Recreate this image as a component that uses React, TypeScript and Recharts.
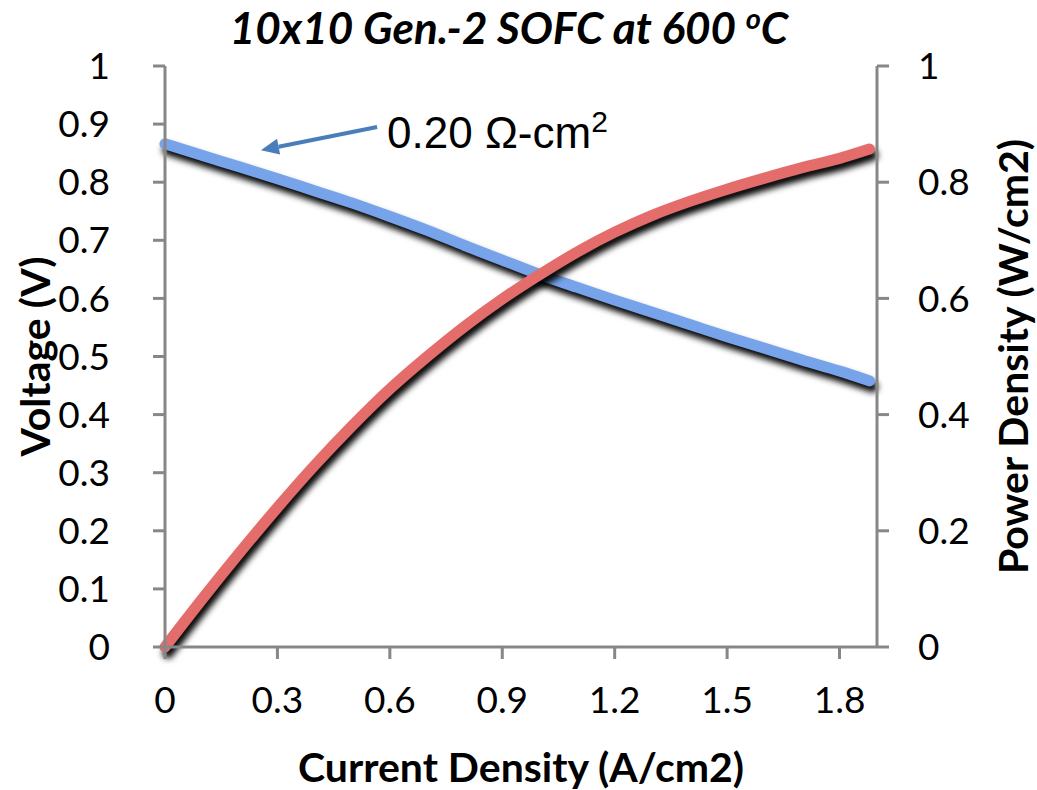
import { LineChart, Line, XAxis, YAxis, ReferenceLine } from 'recharts'

// current density (A/cm2)
const current = [0, 0.1, 0.2, 0.3, 0.4, 0.5, 0.6, 0.7, 0.8, 0.9, 1.0, 1.1, 1.2, 1.3, 1.4, 1.5, 1.6, 1.7, 1.8, 1.88]
// cell voltage (V)
const voltage = [0.866, 0.846, 0.826, 0.806, 0.785, 0.764, 0.741, 0.717, 0.691, 0.666, 0.641, 0.619, 0.597, 0.576, 0.555, 0.534, 0.514, 0.494, 0.475, 0.458]
// power density (W/cm2)
const power = [0, 0.083, 0.163, 0.24, 0.313, 0.381, 0.444, 0.5, 0.552, 0.599, 0.641, 0.68, 0.714, 0.743, 0.767, 0.788, 0.807, 0.825, 0.841, 0.857]

const xTicks = [0, 0.3, 0.6, 0.9, 1.2, 1.5, 1.8]
const leftTicks = [0, 0.1, 0.2, 0.3, 0.4, 0.5, 0.6, 0.7, 0.8, 0.9, 1]
const rightTicks = [0, 0.2, 0.4, 0.6, 0.8, 1]

const data = current.map((i, k) => ({ i, v: voltage[k], p: power[k] }))

const AXIS = '#878787'
const tickStyle = { fill: '#000', fontSize: 37, fontFamily: 'Lato' }
const titleStyle = { fill: '#000', fontSize: 41, fontWeight: 700, fontFamily: 'Lato' }

function Arrow(props: any) {
  const { x1, y1, x2, y2 } = props
  const dx = x2 - x1
  const dy = y2 - y1
  const len = Math.sqrt(dx * dx + dy * dy)
  const ux = dx / len
  const uy = dy / len
  const hl = 18
  const hw = 8
  const bx = x2 - ux * hl
  const by = y2 - uy * hl
  return (
    <g>
      <line x1={x1} y1={y1} x2={bx} y2={by} stroke="#4a7ebb" strokeWidth={4} />
      <polygon
        points={`${x2},${y2} ${bx - uy * hw},${by + ux * hw} ${bx + uy * hw},${by - ux * hw}`}
        fill="#4a7ebb"
      />
      <text x={x1 + 10} y={y1 + 21} fontSize={44} fontFamily="Liberation Sans" fill="#000">
        0.20 Ω-cm<tspan fontSize={30} dy={-16}>2</tspan>
      </text>
    </g>
  )
}

export default function App() {
  return (
    <div style={{ position: 'absolute', left: 0, top: 0, width: 1037, height: 790, background: '#fff' }}>
      <style>{`
        .v-line .recharts-line-curve, .p-line .recharts-line-curve {
          filter: drop-shadow(3px 6px 3px #000);
        }
      `}</style>
      <div
        style={{
          position: 'absolute',
          left: 0,
          top: -1,
          width: 1018,
          textAlign: 'center',
          fontFamily: 'Lato',
          fontWeight: 700,
          fontStyle: 'italic',
          fontSize: 44,
          lineHeight: '56px',
        }}
      >
        10x10 Gen.-2 SOFC at 600 <sup style={{ fontSize: 29, verticalAlign: 'top', lineHeight: '38px' }}>o</sup>C
      </div>
      <LineChart width={1037} height={790} data={data} margin={{ top: 66, right: 0, bottom: 0, left: 0 }}>
        <XAxis
          dataKey="i"
          type="number"
          domain={[0, 1.9]}
          ticks={xTicks}
          tickFormatter={(t: number) => String(t)}
          height={143}
          stroke={AXIS}
          strokeWidth={3}
          tickSize={12}
          tickMargin={28}
          tick={tickStyle}
          label={{ value: 'Current Density (A/cm2)', position: 'insideBottom', offset: 8, style: titleStyle }}
        />
        <YAxis
          yAxisId="left"
          domain={[0, 1]}
          ticks={leftTicks}
          tickFormatter={(t: number) => String(t)}
          width={165}
          stroke={AXIS}
          strokeWidth={3}
          tickSize={12}
          tickMargin={43}
          tick={tickStyle}
          label={{ value: 'Voltage (V)', angle: -90, position: 'insideLeft', offset: 35, textAnchor: 'middle', style: titleStyle }}
        />
        <YAxis
          yAxisId="right"
          orientation="right"
          domain={[0, 1]}
          ticks={rightTicks}
          tickFormatter={(t: number) => String(t)}
          width={160}
          stroke={AXIS}
          strokeWidth={3}
          tickSize={12}
          tickMargin={29}
          tick={tickStyle}
          label={{ value: 'Power Density (W/cm2)', angle: -90, position: 'insideRight', offset: 24, textAnchor: 'middle', style: titleStyle }}
        />
        <Line
          yAxisId="left"
          className="v-line"
          type="monotone"
          dataKey="v"
          stroke="#77a3ea"
          strokeWidth={11}
          strokeLinecap="round"
          dot={false}
          activeDot={false}
          isAnimationActive={false}
        />
        <Line
          yAxisId="right"
          className="p-line"
          type="monotone"
          dataKey="p"
          stroke="#e46c6a"
          strokeWidth={11}
          strokeLinecap="round"
          dot={false}
          activeDot={false}
          isAnimationActive={false}
        />
        <ReferenceLine
          yAxisId="left"
          segment={[
            { x: 0.566, y: 0.895 },
            { x: 0.256, y: 0.855 },
          ]}
          shape={Arrow}
          ifOverflow="visible"
        />
      </LineChart>
    </div>
  )
}
